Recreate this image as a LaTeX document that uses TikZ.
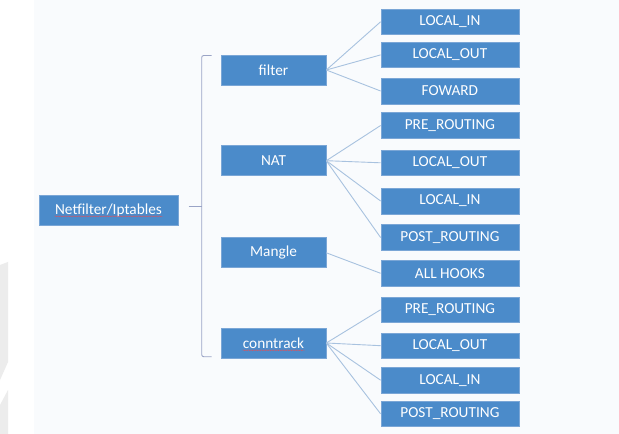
\documentclass[tikz,border=0pt]{standalone}
\usepackage{fontspec}
\setmainfont{Carlito}
\usetikzlibrary{decorations.pathmorphing}
\definecolor{boxblue}{HTML}{4B8BCA}
\definecolor{boxedge}{HTML}{7AA6D6}
\definecolor{linkblue}{HTML}{A8C2DF}
\definecolor{bracegray}{HTML}{9AA4C6}
\definecolor{pagetint}{HTML}{F9FBFD}
\definecolor{edgegray}{HTML}{ECECEC}
\definecolor{spellred}{HTML}{D9535F}
\begin{document}
\begin{tikzpicture}[x=1bp,y=-1bp,
  box/.style={draw=boxedge, line width=0.6bp, fill=boxblue, text=white,
    font=\fontsize{15.3bp}{18bp}\selectfont, inner sep=0pt, anchor=center},
  rootbox/.style={box, minimum width=139bp, minimum height=30.5bp},
  tablebox/.style={box, minimum width=105bp, minimum height=30bp},
  hookbox/.style={box, minimum width=138bp, minimum height=25.7bp},
  link/.style={draw=linkblue, line width=0.9bp},
  brace/.style={draw=bracegray, line width=0.9bp, rounded corners=2bp},
  spell/.style={draw=spellred, line width=0.4bp, decorate,
    decoration={snake, segment length=2.6bp, amplitude=0.5bp}}
]
% page background
\useasboundingbox (0,0) rectangle (619,434);
\fill[white] (0,0) rectangle (619,434);
\fill[pagetint] (34,0) rectangle (619,434);
\fill[edgegray] (0,265) -- (8,262) -- (8,362) -- (0,380) -- cycle;
\fill[edgegray] (0,405) -- (8,390) -- (8,434) -- (0,434) -- cycle;

% root and tables
\node[rootbox] (root) at (108.5,210.2) {Netfilter/Iptables};
\node[tablebox] (filter) at (273.5,70) {filter};
\node[tablebox] (nat) at (273.5,160.7) {NAT};
\node[tablebox] (mangle) at (273.5,252.8) {Mangle};
\node[tablebox] (conn) at (273.5,343) {conntrack};

% hooks
\node[hookbox] (f1) at (449.9,21.8) {LOCAL\_IN};
\node[hookbox] (f2) at (449.9,54.9) {LOCAL\_OUT};
\node[hookbox] (f3) at (449.9,91) {FOWARD};
\node[hookbox] (n1) at (449.9,125.5) {PRE\_ROUTING};
\node[hookbox] (n2) at (449.9,162.8) {LOCAL\_OUT};
\node[hookbox] (n3) at (449.9,201) {LOCAL\_IN};
\node[hookbox] (n4) at (449.9,237.5) {POST\_ROUTING};
\node[hookbox] (m1) at (449.9,273.3) {ALL HOOKS};
\node[hookbox] (c1) at (449.9,309.7) {PRE\_ROUTING};
\node[hookbox] (c2) at (449.9,345.7) {LOCAL\_OUT};
\node[hookbox] (c3) at (449.9,380.2) {LOCAL\_IN};
\node[hookbox] (c4) at (449.9,413.8) {POST\_ROUTING};

% spell-check underlines
\draw[spell] ([xshift=-54bp,yshift=-2bp]root.base) -- ([xshift=54bp,yshift=-2bp]root.base);
\draw[spell] ([xshift=-31bp,yshift=-2bp]conn.base) -- ([xshift=31bp,yshift=-2bp]conn.base);

% brace grouping the tables
\coordinate (bt) at (211.5,55.5);
\coordinate (bm) at (201.7,206.5);
\coordinate (bb) at (211.5,356.7);
\coordinate (bk) at (188.5,206.5);
\draw[brace] (bt) -| (bm) |- (bb);
\draw[brace] (bk) -- (bm);

% links from tables to hooks
\foreach \h in {f1,f2,f3} \draw[link] (filter.east) -- (\h.west);
\foreach \h in {n1,n2,n3,n4} \draw[link] (nat.east) -- (\h.west);
\draw[link] (mangle.east) -- (m1.west);
\foreach \h in {c1,c2,c3,c4} \draw[link] (conn.east) -- (\h.west);
\end{tikzpicture}
\end{document}
